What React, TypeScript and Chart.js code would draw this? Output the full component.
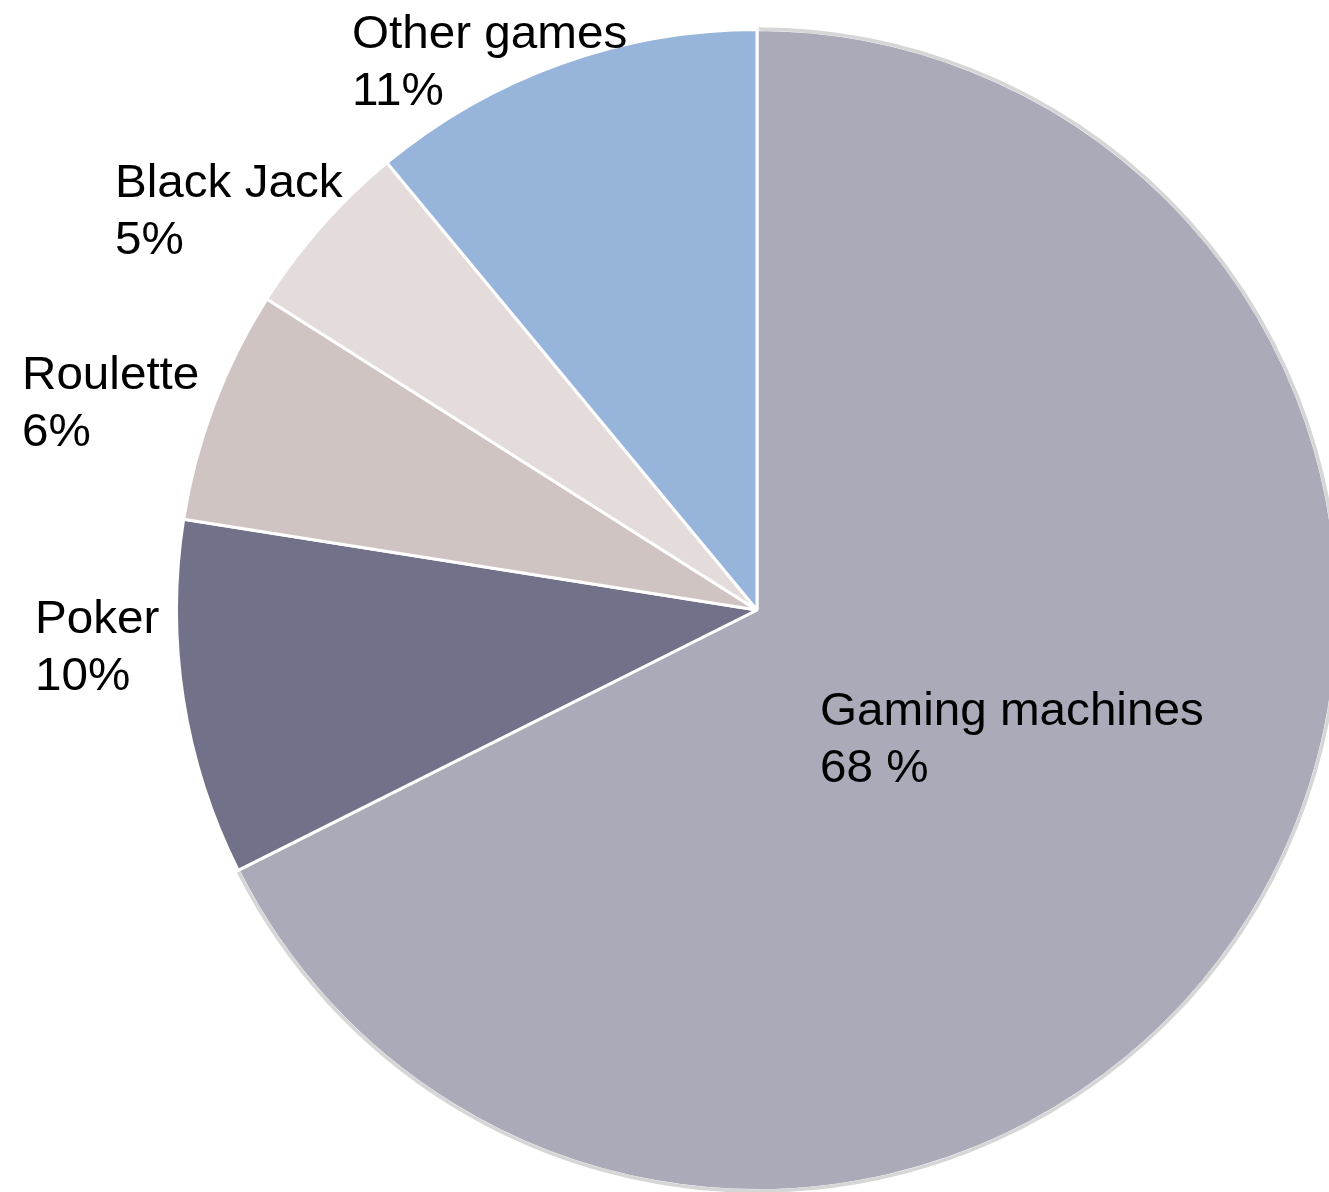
import React, { useEffect, useRef } from "react";
import { Chart, registerables } from "chart.js";

Chart.register(...registerables);

const categories = ["Gaming machines", "Poker", "Roulette", "Black Jack", "Other games"];
const values = [67.6, 9.9, 6.5, 5.0, 11.0];
const percentLabels = ["68 %", "10%", "6%", "5%", "11%"];
const colors = ["#AAAAB9", "#717189", "#D0C4C2", "#E3DCDB", "#97B4DB"];

// label anchor (left x, first baseline y) in canvas pixels
const labelAnchors: [number, number][] = [
  [820, 725],
  [35, 633],
  [22, 389],
  [115, 197],
  [352, 48],
];

export default function App() {
  const ref = useRef<HTMLCanvasElement | null>(null);
  useEffect(() => {
    if (!ref.current) return;
    const outerRing = {
      id: "outerRing",
      afterDatasetsDraw(chart: any) {
        const meta = chart.getDatasetMeta(0);
        const arc = meta.data[0];
        if (!arc) return;
        const { x, y, startAngle, endAngle, outerRadius } = arc.getProps(
          ["x", "y", "startAngle", "endAngle", "outerRadius"],
          true
        );
        const ctx = chart.ctx;
        ctx.save();
        ctx.beginPath();
        ctx.arc(x, y, outerRadius + 0.5, startAngle + 0.003, endAngle - 0.003);
        ctx.strokeStyle = "#D6D6D6";
        ctx.lineWidth = 3.5;
        ctx.stroke();
        ctx.restore();
      },
    };
    const labelsPlugin = {
      id: "sliceLabels",
      afterDraw(chart: any) {
        const ctx = chart.ctx;
        ctx.save();
        ctx.font = "46px 'Liberation Sans', Arial, sans-serif";
        ctx.fillStyle = "#000000";
        ctx.textAlign = "left";
        ctx.textBaseline = "alphabetic";
        categories.forEach((c, i) => {
          const [lx, ly] = labelAnchors[i];
          ctx.save();
          ctx.translate(lx, ly);
          ctx.scale(1.035, 1);
          ctx.fillText(c, 0, 0);
          ctx.fillText(percentLabels[i], 0, 57);
          ctx.restore();
        });
        ctx.restore();
      },
    };
    const chart = new Chart(ref.current, {
      type: "pie",
      data: {
        labels: categories,
        datasets: [
          {
            data: values,
            backgroundColor: colors,
            borderColor: "#FFFFFF",
            borderWidth: 3,
            hoverOffset: 0,
            offset: 0,
          },
        ],
      },
      options: {
        responsive: false,
        animation: false,
        layout: { padding: { left: 175, top: 28, right: 61, bottom: 0 } },
        plugins: {
          legend: { display: false },
          tooltip: { enabled: false },
          title: { display: false },
        },
      },
      plugins: [outerRing, labelsPlugin],
    });
    return () => chart.destroy();
  }, []);
  return (
    <div
      style={{
        position: "fixed",
        left: 0,
        top: 0,
        width: 1329,
        height: 1192,
        overflow: "hidden",
        background: "#FFFFFF",
      }}
    >
      <canvas ref={ref} width={1400} height={1192} style={{ width: 1400, height: 1192, display: "block" }} />
    </div>
  );
}
